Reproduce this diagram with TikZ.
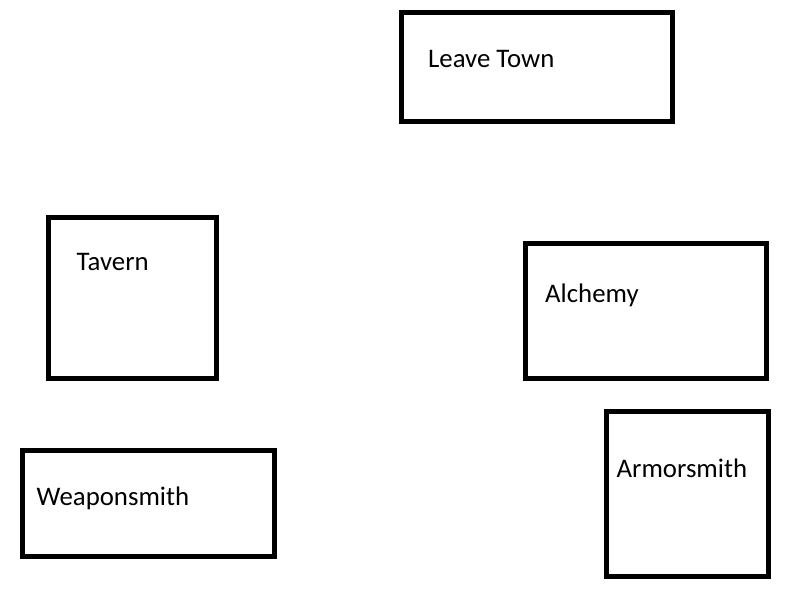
\documentclass[tikz,border=0pt]{standalone}
\usepackage{fontspec}
\setmainfont{Carlito}
\begin{document}
\begin{tikzpicture}[x=1pt,y=-1pt,
  room/.style={draw=black,line width=5pt,rectangle,inner sep=0pt,fill=white},
  lbl/.style={anchor=base west,inner sep=0pt,font=\fontsize{26.8}{31}\selectfont}]
\useasboundingbox (0,0) rectangle (800,600);
\fill[white] (0,0) rectangle (800,600);
% boxes: center, width, height
\node[room,minimum width=270.5pt,minimum height=109pt] (leave) at (536.75,67) {};
\node[room,minimum width=167.5pt,minimum height=161pt] (tavern) at (132.25,297.5) {};
\node[room,minimum width=241pt,minimum height=135pt] (alchemy) at (645.5,310.5) {};
\node[room,minimum width=251.5pt,minimum height=106pt] (weapon) at (148.25,503) {};
\node[room,minimum width=161.5pt,minimum height=165.5pt] (armor) at (687.25,493.75) {};
% labels
\node[lbl] (leaveT) at (428,67) {Leave Town};
\node[lbl] (tavernT) at (76.5,270) {Tavern};
\node[lbl] (alchemyT) at (545,302) {Alchemy};
\node[lbl] (weaponT) at (36.5,505.7) {Weaponsmith};
\node[lbl] (armorT) at (616.5,477.7) {Armorsmith};
\end{tikzpicture}
\end{document}
